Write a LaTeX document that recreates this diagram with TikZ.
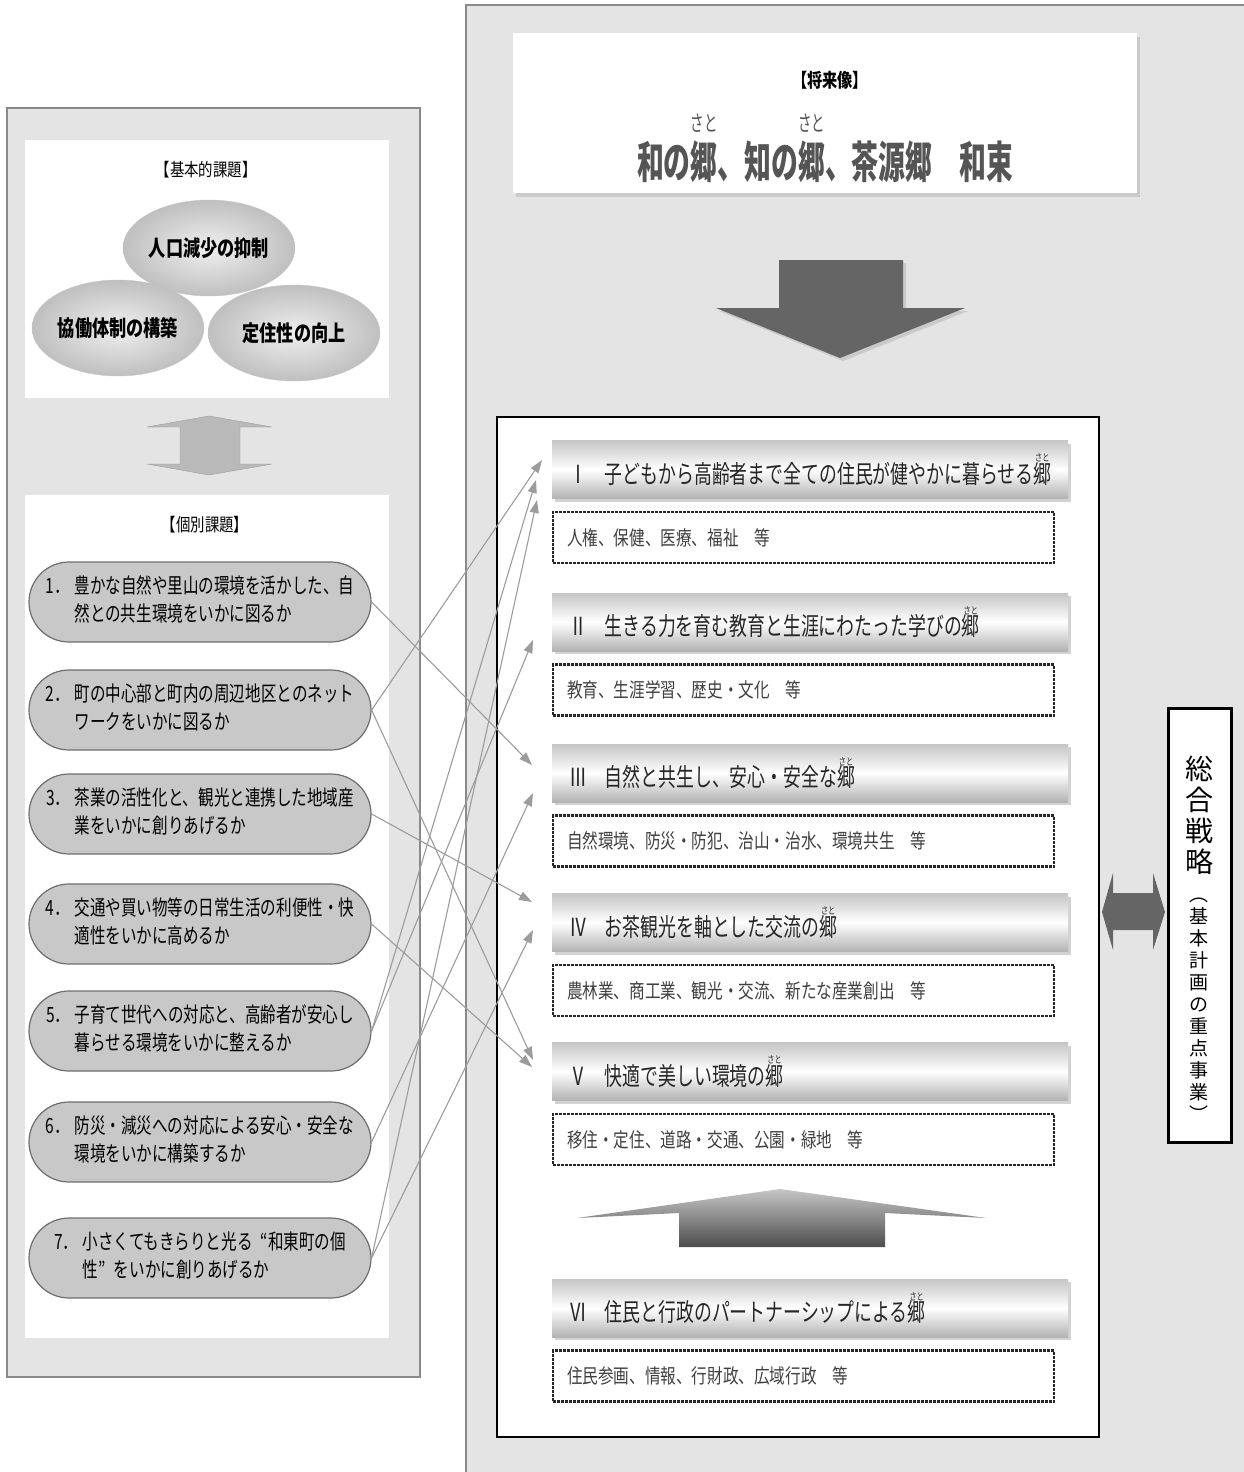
\documentclass[tikz,border=0pt]{standalone}
\usepackage{fontspec}
\setmainfont{Noto Sans CJK JP}
\usepackage{graphicx}
\usetikzlibrary{arrows.meta, positioning, shapes.misc, shapes.geometric, shadows}

\definecolor{panelgray}{HTML}{E4E4E4}
\definecolor{panelline}{HTML}{8A8A8A}
\definecolor{issuefill}{HTML}{C8C8C8}
\definecolor{issueline}{HTML}{6E6E6E}
\definecolor{linkgray}{HTML}{9C9C9C}
\definecolor{arrowdark}{HTML}{656565}
\definecolor{titlegray}{HTML}{555555}

\newcommand{\narrow}[2][.74]{\scalebox{#1}[1]{#2}}
\newcommand{\furi}[4]{\leavevmode\vbox{\offinterlineskip\halign{\hfil##\hfil\cr{\fontsize{#1}{#1}\selectfont\mdseries #4}\cr\noalign{\kern#2}#3\cr}}}
\newcommand{\sato}{\furi{10}{0pt}{郷}{さと}}
\newcommand{\oq}{\makebox[1em][r]{“}}
\newcommand{\cq}{\makebox[1em][l]{”}}
\newcommand{\issuetext}[3]{\narrow{\begin{tabular}{@{}l@{}}\makebox[1.85em][l]{#1．}#2\\\hspace*{1.85em}#3\end{tabular}}}

\begin{document}
\begin{tikzpicture}[x=1pt, y=-1pt]
\tikzstyle{issue}=[rounded rectangle, draw=issueline, line width=1.2pt, fill=issuefill, minimum width=342pt, minimum height=80pt, inner sep=0pt, font=\fontsize{21}{28}\selectfont]
\tikzstyle{ball}=[ellipse, minimum width=172pt, minimum height=96pt, inner sep=0pt, draw=gray!45, inner color=gray!12, outer color=gray!50, font=\fontsize{22}{22}\selectfont\bfseries]
\tikzstyle{head}=[font=\fontsize{18}{18}\selectfont]
\tikzstyle{pillar}=[rectangle, minimum height=58pt, text width=482pt, inner xsep=17pt, inner ysep=0pt, align=left, top color=gray!45, bottom color=gray!60, middle color=white, drop shadow={shadow xshift=3pt, shadow yshift=-3pt, fill=gray!70}, font=\fontsize{25}{25}\selectfont, text=black!85]
\tikzstyle{scopebox}=[draw=black!85, line width=2.6pt, dash pattern=on 3pt off 1pt, fill=white, minimum height=51pt, text width=473pt, inner xsep=14pt, align=left, font=\fontsize{20}{20}\selectfont, text=black!75]
\tikzstyle{link}=[draw=linkgray, line width=1.1pt, -{Triangle[length=13pt, width=9pt]}]

\useasboundingbox (0,0) rectangle (1244,1472);
\fill[white] (0,0) rectangle (1244,1472);

% left panel
\filldraw[fill=panelgray, draw=panelline, line width=1.5pt] (7,108) rectangle (420,1377);
\fill[white] (25,140) rectangle (389,398);
\fill[white] (25,495) rectangle (389,1338);

% right panel
\fill[panelgray] (466,5) rectangle (1244,1472);
\draw[panelline, line width=1.5pt] (466,1472) -- (466,5) -- (1244,5);

% basic issues
\node[head] (basic) at (206,170) {\narrow[.8]{【基本的課題】}};
\node[ball] (b1) at (209,248) {\narrow[.78]{人口減少の抑制}};
\node[ball] (b2) at (118,328) {\narrow[.78]{協働体制の構築}};
\node[ball] (b3) at (294,333) {\narrow[.78]{定住性の向上}};

\filldraw[fill=gray!55, draw=gray!75] (209,416) -- (272,427) -- (240,427) -- (240,464) -- (272,464) -- (209,475) -- (147,464) -- (180,464) -- (180,427) -- (147,427) -- cycle;

% individual issues
\node[head] (each) at (205,525) {\narrow[.8]{【個別課題】}};
\foreach \n/\y/\a/\b in {1/602/豊かな自然や里山の環境を活かした、自/然との共生環境をいかに図るか,
  2/710/町の中心部と町内の周辺地区とのネット/ワークをいかに図るか,
  3/814/茶業の活性化と、観光と連携した地域産/業をいかに創りあげるか,
  4/924/交通や買い物等の日常生活の利便性・快/適性をいかに高めるか,
  5/1031/子育て世代への対応と、高齢者が安心し/暮らせる環境をいかに整えるか,
  6/1142/防災・減災への対応による安心・安全な/環境をいかに構築するか,
  7/1258/小さくてもきらりと光る\oq 和東町の個/性\cq をいかに創りあげるか}
   \node[issue] (i\n) at (200,\y) {\issuetext{\n}{\a}{\b}};

% future image
\node[fill=white, minimum width=624pt, minimum height=160pt, drop shadow={shadow xshift=3pt, shadow yshift=-4pt, fill=gray!60}] (future) at (825,113) {};
\node[font=\fontsize{19}{19}\selectfont\bfseries] (futT) at (830,80) {\narrow[.8]{【将来像】}};
\node[font=\fontsize{44}{44}\selectfont\bfseries, text=titlegray, anchor=base] (futM) at (825,178) {\narrow[.61]{和の\furi{22}{8pt}{郷}{さと}、知の\furi{22}{8pt}{郷}{さと}、茶源郷　和束}};

\fill[arrowdark, drop shadow={shadow xshift=3pt, shadow yshift=-3pt, fill=gray!60}] (779,260) -- (903,260) -- (903,308) -- (965,308) -- (840,358) -- (716,308) -- (779,308) -- cycle;

% pillars
\draw[black, line width=2pt, fill=white] (497,417) rectangle (1099,1437);
\foreach \n/\y/\t/\s in {1/469.5/{Ⅰ　子どもから高齢者まで全ての住民が健やかに暮らせる\sato}/{人権、保健、医療、福祉　等},
  2/622/{Ⅱ　生きる力を育む教育と生涯にわたった学びの\sato}/{教育、生涯学習、歴史・文化　等},
  3/773/{Ⅲ　自然と共生し、安心・安全な\sato}/{自然環境、防災・防犯、治山・治水、環境共生　等},
  4/922.5/{Ⅳ　お茶観光を軸とした交流の\sato}/{農林業、商工業、観光・交流、新たな産業創出　等},
  5/1071.5/{Ⅴ　快適で美しい環境の\sato}/{移住・定住、道路・交通、公園・緑地　等},
  6/1308/{Ⅵ　住民と行政のパートナーシップによる\sato}/{住民参画、情報、行財政、広域行政　等}} {
   \node[pillar] (p\n) at (810,\y) {\narrow[.715]{\t}};
   \node[scopebox, anchor=north west] (s\n) at ([yshift=-12pt]p\n.south west) {\narrow[.78]{\s}};
}

\shade[top color=gray!45, bottom color=black!70] (577,1218) -- (780,1189) -- (986,1218) -- (885,1213) -- (885,1247) -- (679,1247) -- (679,1213) -- cycle;

% strategy
\fill[arrowdark] (1102,912) -- (1113,873) -- (1113,893) -- (1153,893) -- (1153,873) -- (1165,912) -- (1153,950) -- (1153,930) -- (1113,930) -- (1113,950) -- cycle;
\node[draw=black, line width=3pt, fill=white, minimum width=63pt, minimum height=434pt] (plan) at (1199.5,925) {};
\node[font=\fontsize{28}{31}\selectfont, align=center] (planT) at (1199,815) {総\\合\\戦\\略};
\node[font=\fontsize{19}{22}\selectfont, align=center] (planS) at (1199,1010) {︵\\基\\本\\計\\画\\の\\重\\点\\事\\業\\︶};

% links
\coordinate (to1a) at (542,460);
\coordinate (to1b) at (536,480);
\coordinate (to1c) at (537,500);
\coordinate (to2a) at (533,640);
\coordinate (to3a) at (532,765);
\coordinate (to3b) at (533,793);
\coordinate (to4a) at (532,902);
\coordinate (to4b) at (533,930);
\coordinate (to5a) at (533,1060);
\coordinate (to5b) at (532,1067);
\foreach \s/\t in {1/3a, 2/1a, 2/5a, 3/4a, 4/5b, 5/1b, 5/2a, 6/3b, 7/1c, 7/4b}
   \draw[link] (i\s.east) -- (to\t);

\end{tikzpicture}
\end{document}
